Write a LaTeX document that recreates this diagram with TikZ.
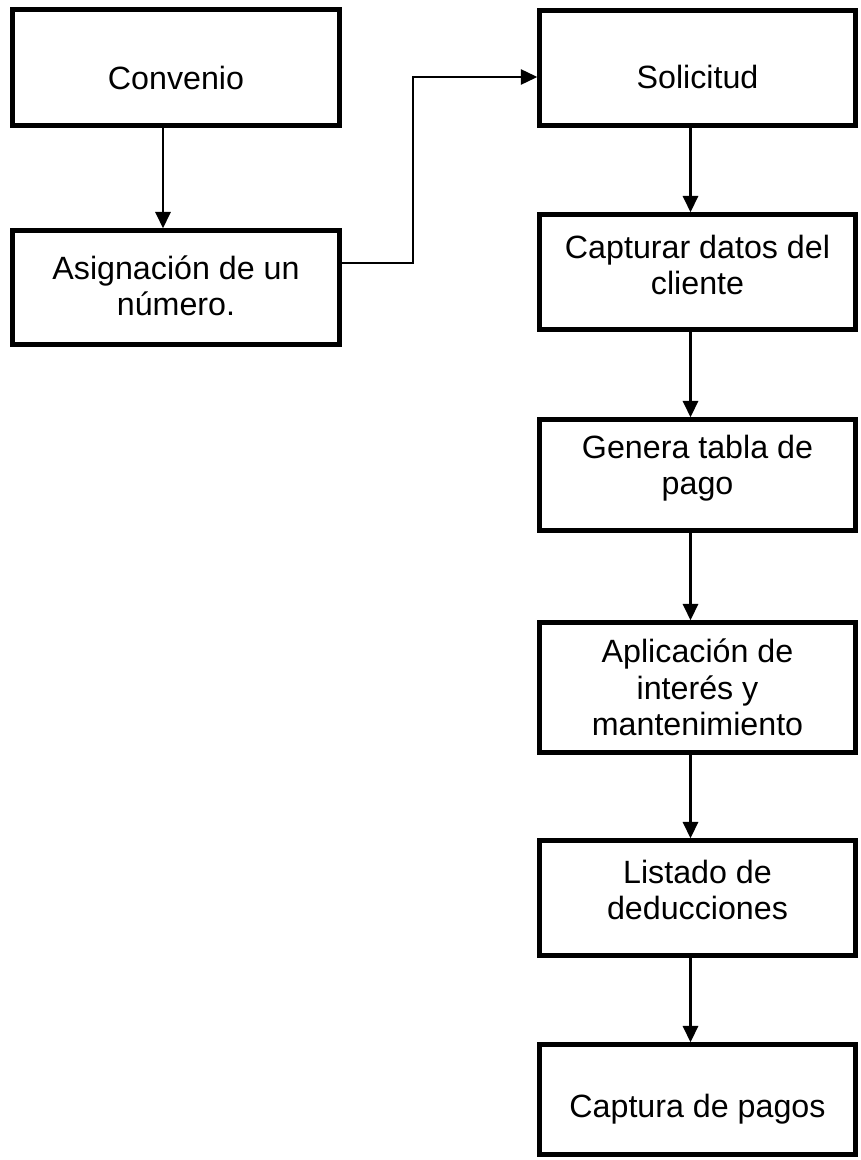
\documentclass[tikz,border=0pt]{standalone}
\usepackage{fontspec}
\setmainfont{Liberation Sans}
\usetikzlibrary{arrows.meta,positioning}

\begin{document}
\begin{tikzpicture}[x=0.03cm,y=-0.03cm,
	caja/.style={draw,line width=3.8pt,inner sep=0pt},
	texto/.style={align=center,inner sep=0pt,font=\fontsize{27.5}{31}\selectfont},
	flecha/.style={-{Triangle[length=14pt,width=13pt]},line width=2.2pt}]
	\useasboundingbox (0,0) rectangle (860,1160);
					\node[caja,minimum width=327*0.03cm,minimum height=116*0.03cm] (L1) at (176,67.5) {};
					\node[caja,minimum width=327*0.03cm,minimum height=114*0.03cm] (L2) at (176,287.5) {};
					\node[texto] (T0) at ([yshift=-0.3cm]L1.center) {Convenio};
					\node[texto] (Tx) at ([yshift=0.06cm]L2.center) {Asignación de un\\número.};

					\foreach \t/\y/\h/\d [count=\n] in {Solicitud/68/115/-9, {Capturar datos del\\cliente}/272/115/7, {Genera tabla de\\pago}/475/111/7, {Aplicación de\\interés y\\mantenimiento}/687.5/130/0, {Listado de\\deducciones}/898/115/8, {Captura de pagos}/1099.5/110/-10}
						{
						\node[caja,minimum width=316*0.03cm,minimum height=\h*0.03cm] (R\n) at (697.5,\y) {};
						\node[texto] (T\n) at ([yshift=\d*0.03cm]R\n.center) {\t};
						}

					\draw[flecha] ([xshift=-0.39cm]L1.south) -- ([xshift=-0.39cm]L2.north);

					\coordinate (codo) at (413,77);
					\draw[flecha,line width=1.6pt] ([yshift=0.74cm]L2.east) -| (codo) -- (codo -| R1.west);

					\foreach \a [count=\b from 2] in {1,...,5}
						\draw[flecha] ([xshift=-0.21cm]R\a.south) -- ([xshift=-0.21cm]R\b.north);
\end{tikzpicture}
\end{document}
